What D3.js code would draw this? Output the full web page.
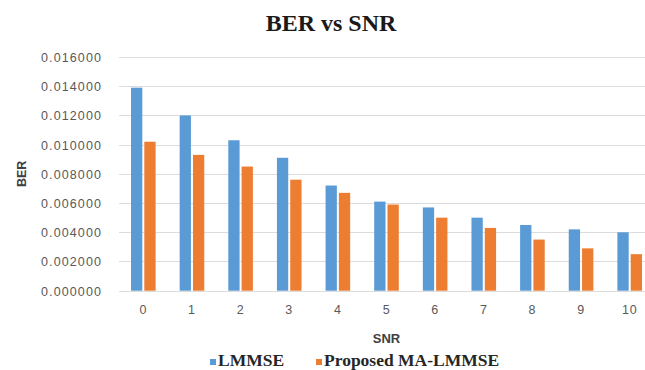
<!DOCTYPE html>
<html>
<head>
<meta charset="utf-8">
<script src="https://cdn.jsdelivr.net/npm/d3@7"></script>
<style>
  html, body { margin: 0; padding: 0; background: #fff; }
  svg { display: block; }
</style>
</head>
<body>
<svg id="chart" width="645" height="370"></svg>
<script>
// BER measured at each SNR point for the two channel estimators
const snr = ["0", "1", "2", "3", "4", "5", "6", "7", "8", "9", "10"];
const lmmse = [0.0139, 0.0120, 0.0103, 0.0091, 0.0072, 0.0061, 0.0057, 0.0050, 0.0045, 0.0042, 0.0040];
const maLmmse = [0.0102, 0.0093, 0.0085, 0.0076, 0.0067, 0.0059, 0.0050, 0.0043, 0.0035, 0.0029, 0.0025];
const seriesNames = ["LMMSE", "Proposed MA-LMMSE"];
const yTicks = [0, 0.002, 0.004, 0.006, 0.008, 0.010, 0.012, 0.014, 0.016];

const colors = ["#5B9BD5", "#ED7D31"];
const svg = d3.select("#chart");

const plot = { left: 119, right: 654, top: 57, bottom: 290.7 };

const x = d3.scaleBand().domain(snr).range([plot.left, plot.right]).paddingInner(0).paddingOuter(0);
const y = d3.scaleLinear().domain([0, 0.016]).range([plot.bottom, plot.top]);

// horizontal gridlines
svg.append("g")
  .selectAll("line")
  .data(yTicks)
  .join("line")
  .attr("x1", plot.left)
  .attr("x2", plot.right)
  .attr("y1", d => Math.round(y(d)) + 0.5)
  .attr("y2", d => Math.round(y(d)) + 0.5)
  .attr("stroke", "#DCDCDC")
  .attr("stroke-width", 1);

// y axis labels
const yAxis = d3.axisLeft(y).tickValues(yTicks).tickFormat(d3.format(".6f")).tickSize(0).tickPadding(0);
const yg = svg.append("g").attr("transform", `translate(102,0)`).call(yAxis);
yg.select(".domain").remove();
yg.selectAll("text")
  .attr("fill", "#595959")
  .attr("font-family", "'Liberation Sans', Arial, sans-serif")
  .attr("font-size", "12.5px")
  .attr("letter-spacing", "1.1px")
  .attr("dy", "0.36em");

// bars
const barW = 11.3, gap = 2;
const offsets = [-gap / 2 - barW, gap / 2];
[lmmse, maLmmse].forEach((vals, si) => {
  svg.append("g")
    .selectAll("rect")
    .data(vals)
    .join("rect")
    .attr("x", (d, i) => x(snr[i]) + x.bandwidth() / 2 + offsets[si])
    .attr("y", d => y(d))
    .attr("width", barW)
    .attr("height", d => y(0) - y(d))
    .attr("fill", colors[si]);
});

// x axis labels
const xAxis = d3.axisBottom(x).tickSize(0).tickPadding(0);
const xg = svg.append("g").attr("transform", `translate(0,${plot.bottom})`).call(xAxis);
xg.select(".domain").remove();
xg.selectAll("text")
  .attr("fill", "#595959")
  .attr("font-family", "'Liberation Sans', Arial, sans-serif")
  .attr("font-size", "12.5px")
  .attr("letter-spacing", "0.8px")
  .attr("dy", null)
  .attr("y", 23.5);

// title
svg.append("text")
  .attr("x", 331)
  .attr("y", 30.5)
  .attr("text-anchor", "middle")
  .attr("font-family", "'Liberation Serif', 'Times New Roman', serif")
  .attr("font-weight", "bold")
  .attr("font-size", "24px")
  .attr("fill", "#1a1a1a")
  .text("BER vs SNR");

// axis titles
svg.append("text")
  .attr("x", (plot.left + plot.right) / 2)
  .attr("y", 343)
  .attr("text-anchor", "middle")
  .attr("font-family", "'Liberation Sans', Arial, sans-serif")
  .attr("font-weight", "bold")
  .attr("font-size", "13px")
  .attr("fill", "#404040")
  .text("SNR");

svg.append("text")
  .attr("transform", `translate(26,${(plot.top + plot.bottom) / 2}) rotate(-90)`)
  .attr("text-anchor", "middle")
  .attr("font-family", "'Liberation Sans', Arial, sans-serif")
  .attr("font-weight", "bold")
  .attr("font-size", "12.5px")
  .attr("fill", "#404040")
  .text("BER");

// legend
const legendX = [210, 316];
const legend = svg.append("g");
seriesNames.forEach((name, i) => {
  legend.append("rect")
    .attr("x", legendX[i])
    .attr("y", 359)
    .attr("width", 6)
    .attr("height", 6)
    .attr("fill", colors[i]);
  legend.append("text")
    .attr("x", legendX[i] + 8)
    .attr("y", 365.5)
    .attr("font-family", "'Liberation Serif', 'Times New Roman', serif")
    .attr("font-weight", "bold")
    .attr("font-size", "17.5px")
    .attr("fill", "#262626")
    .text(name);
});
</script>
</body>
</html>
